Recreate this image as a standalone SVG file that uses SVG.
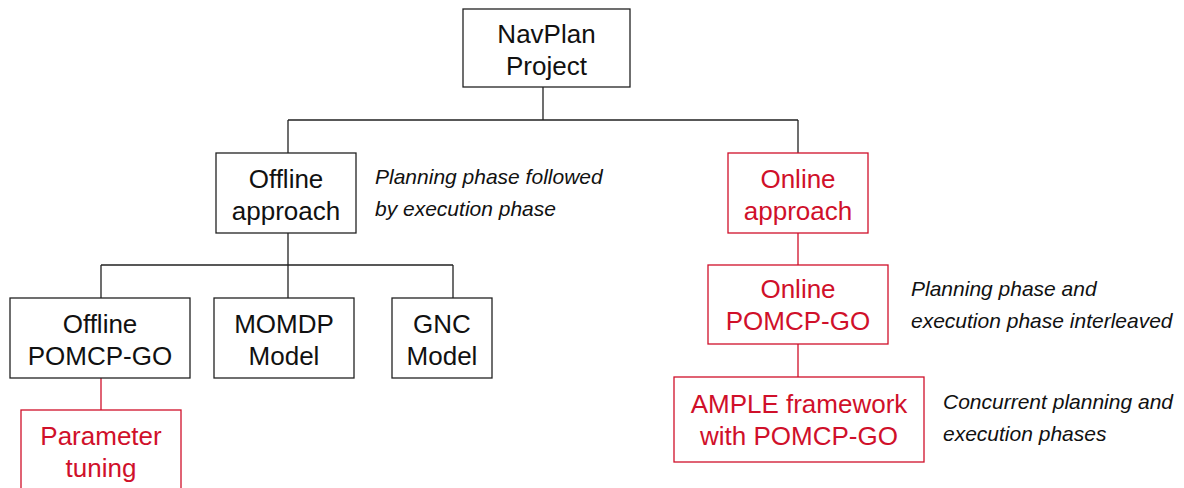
<svg xmlns="http://www.w3.org/2000/svg" width="1184" height="488" viewBox="0 0 1184 488">
<style>
.box{fill:#fff;stroke:#222;stroke-width:1.3}
.rbox{fill:#fff;stroke:#d0102a;stroke-width:1.3}
.t{font-family:"Liberation Sans",Arial,sans-serif;font-size:26px;fill:#111;text-anchor:middle}
.rt{font-family:"Liberation Sans",Arial,sans-serif;font-size:26px;fill:#d0102a;text-anchor:middle}
.note{font-family:"Liberation Sans",Arial,sans-serif;font-size:21px;font-style:italic;fill:#111}
.ln{stroke:#222;stroke-width:1.3;fill:none}
.rln{stroke:#d0102a;stroke-width:1.3;fill:none}
</style>
<rect width="1184" height="488" fill="#fff"/>
<g id="connectors">
<path class="ln" d="M543 87V120M288 120H798M288 120V153M798 120V153"/>
<path class="ln" d="M288 233V265M101 265H453M101 265V298M288 265V298M453 265V298"/>
<path class="rln" d="M101 378V410"/>
<path class="rln" d="M798 233V265M798 344V377"/>
</g>
<g id="navplan">
<rect class="box" x="463" y="9" width="167" height="78"/>
<text class="t" x="546.5" y="43">NavPlan</text>
<text class="t" x="546.5" y="75">Project</text>
</g>
<g id="offline-approach">
<rect class="box" x="216" y="153" width="140" height="80"/>
<text class="t" x="286" y="188">Offline</text>
<text class="t" x="286" y="220">approach</text>
</g>
<g id="offline-note">
<text class="note" x="375" y="184">Planning phase followed</text>
<text class="note" x="375" y="216">by execution phase</text>
</g>
<g id="online-approach">
<rect class="rbox" x="728" y="153" width="140" height="80"/>
<text class="rt" x="798" y="188">Online</text>
<text class="rt" x="798" y="220">approach</text>
</g>
<g id="offline-pomcp">
<rect class="box" x="10" y="298" width="180" height="80"/>
<text class="t" x="100" y="333">Offline</text>
<text class="t" x="100" y="365">POMCP-GO</text>
</g>
<g id="momdp">
<rect class="box" x="214" y="298" width="140" height="80"/>
<text class="t" x="284" y="333">MOMDP</text>
<text class="t" x="284" y="365">Model</text>
</g>
<g id="gnc">
<rect class="box" x="392" y="298" width="100" height="80"/>
<text class="t" x="442" y="333">GNC</text>
<text class="t" x="442" y="365">Model</text>
</g>
<g id="parameter-tuning">
<rect class="rbox" x="21" y="410" width="160" height="82"/>
<text class="rt" x="101" y="445">Parameter</text>
<text class="rt" x="101" y="477">tuning</text>
</g>
<g id="online-pomcp">
<rect class="rbox" x="708" y="265" width="180" height="79"/>
<text class="rt" x="798" y="298">Online</text>
<text class="rt" x="798" y="330">POMCP-GO</text>
</g>
<g id="online-note">
<text class="note" x="911" y="296">Planning phase and</text>
<text class="note" x="911" y="328">execution phase interleaved</text>
</g>
<g id="ample">
<rect class="rbox" x="674" y="377" width="250" height="85"/>
<text class="rt" x="799" y="413">AMPLE framework</text>
<text class="rt" x="799" y="445">with POMCP-GO</text>
</g>
<g id="ample-note">
<text class="note" x="943" y="409">Concurrent planning and</text>
<text class="note" x="943" y="441">execution phases</text>
</g>
</svg>
